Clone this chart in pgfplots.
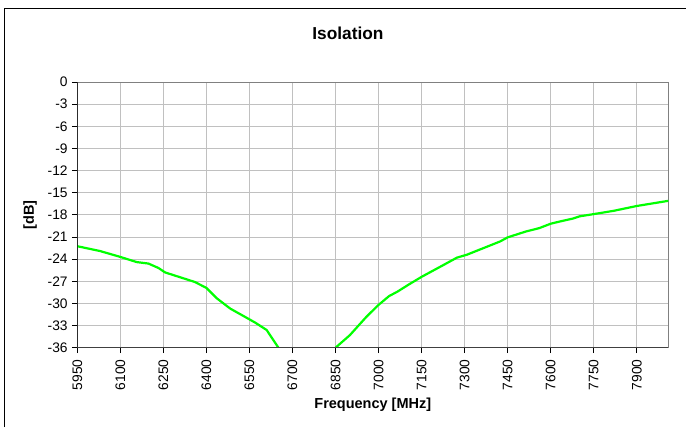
\documentclass[border=0pt]{standalone}
\usepackage{fontspec}
\setmainfont{Liberation Sans}
\usepackage{pgfplots}
\pgfplotsset{compat=1.18}
\definecolor{isogreen}{RGB}{0,255,0}
\definecolor{gridgray}{RGB}{192,192,192}
\begin{document}
\begin{tikzpicture}[x=1bp,y=1bp]
\useasboundingbox (0,0) rectangle (686,427);
\draw[line width=1.3bp] (4.5,0) -- (4.5,418.5) -- (686,418.5);
\begin{axis}[
  at={(77.3bp,79.3bp)}, anchor=south west,
  scale only axis,
  width=591bp, height=265.7bp,
  xmin=5950, xmax=8010,
  ymin=-36, ymax=0,
  xtick={5950,6100,...,7900},
  ytick={-36,-33,...,0},
  scaled ticks=false,
  /pgf/number format/assume math mode=true,
  xticklabel={\pgfmathprintnumber[1000 sep={}]{\tick}},
  yticklabel={\pgfmathprintnumber{\tick}},
  tick align=outside,
  major tick length=5.5bp,
  tick style={black, line width=0.8bp},
  xtick pos=bottom, ytick pos=left,
  ticklabel style={font=\fontsize{13.8bp}{16bp}\selectfont},
  xticklabel style={rotate=90, anchor=east, inner xsep=6bp, inner ysep=0bp},
  yticklabel style={anchor=east, inner xsep=4bp},
  grid=major,
  major grid style={draw=gridgray, line width=0.9bp},
  axis line style={draw=gray, line width=1bp},
  title={\textbf{Isolation}},
  title style={at={(axis description cs:0.458,1.162)}, anchor=center, font=\fontsize{17.3bp}{20bp}\selectfont},
  xlabel={\textbf{Frequency [MHz]}},
  xlabel style={at={(axis description cs:0.5,-0.214)}, anchor=center, font=\fontsize{14.5bp}{17bp}\selectfont},
  ylabel={\textbf{[dB]}},
  ylabel style={at={(axis description cs:-0.080,0.5)}, anchor=center, font=\fontsize{14.5bp}{17bp}\selectfont},
]
\addplot[isogreen, line width=2.2bp, line join=round] coordinates {
(5950,-22.25) (6029,-22.9) (6100,-23.7) (6157,-24.4) (6198,-24.6)
(6233,-25.2) (6256,-25.8) (6320,-26.6) (6360,-27.1) (6400,-27.9)
(6436,-29.3) (6483,-30.7) (6529,-31.7) (6570,-32.6) (6610,-33.6)
(6651,-36)
};
\addplot[isogreen, line width=2.2bp, line join=round] coordinates {
(6850,-36) (6900,-34.3) (6958,-31.8) (7000,-30.2) (7037,-29.0)
(7066,-28.4) (7107,-27.4) (7150,-26.4) (7226,-24.8) (7273,-23.8)
(7308,-23.4) (7366,-22.5) (7424,-21.6) (7450,-21.05) (7514,-20.25)
(7560,-19.8) (7600,-19.2) (7643,-18.8) (7678,-18.5) (7701,-18.2)
(7750,-17.9) (7820,-17.45) (7900,-16.8) (8010,-16.1)
};
\draw[black, line width=1.2bp] (rel axis cs:0,0) -- (rel axis cs:0,1);
\draw[black!75, line width=1.8bp] (rel axis cs:0,0) -- (rel axis cs:1,0);
\end{axis}
\end{tikzpicture}
\end{document}
